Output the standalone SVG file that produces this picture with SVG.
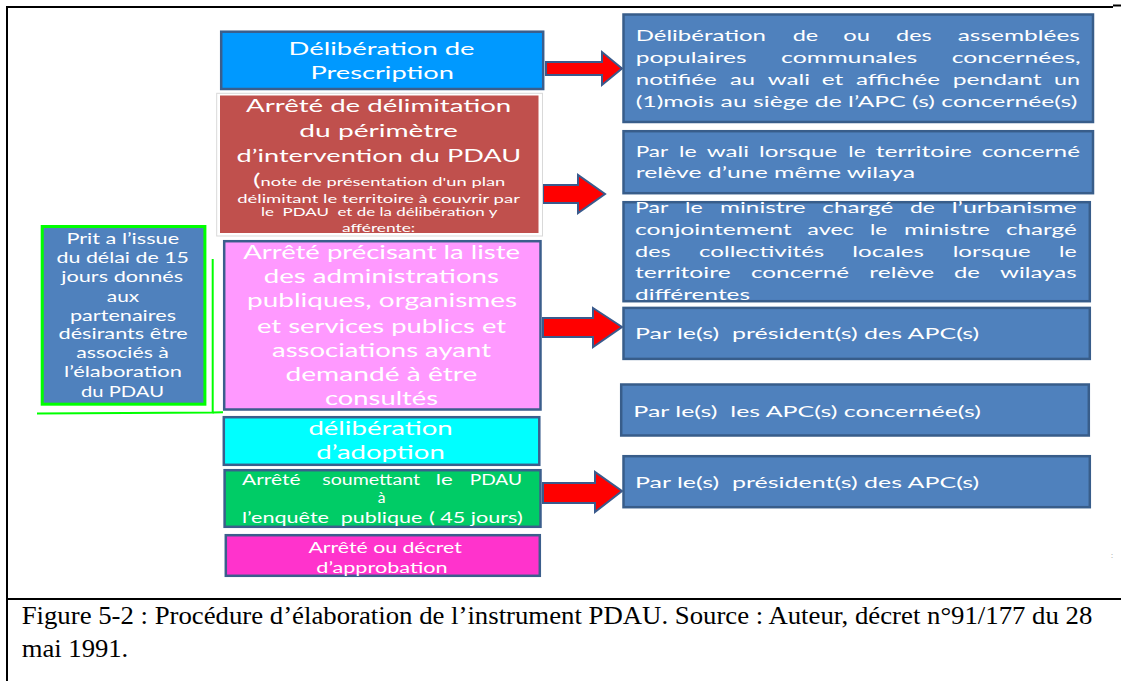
<svg xmlns="http://www.w3.org/2000/svg" width="1121" height="681" viewBox="0 0 1121 681">
<style>
text { font-family: Lato, "Open Sans", "Liberation Sans", sans-serif; fill: #ffffff; }
.t17 { font-size: 17px; }
.t18 { font-size: 18.5px; }
.t16 { font-size: 16px; }
.t15 { font-size: 15.5px; }
.t15b { font-size: 15px; }
.t11 { font-size: 11px; }
.cap { font-family: "Liberation Serif", "Times New Roman", serif; font-size: 25px; fill: #000000; }
.rb { fill: #4f81bd; stroke: #385d8a; stroke-width: 2.5; }
.lb { stroke: #3b5e8c; stroke-width: 2.5; }
.arrow { fill: #ff0000; stroke: #3a5a8c; stroke-width: 2; stroke-linejoin: miter; }
.frame { stroke: #000000; stroke-width: 2; fill: none; }
</style>
<rect x="0" y="0" width="1121" height="681" fill="#ffffff"/>

<g id="frame">
  <line class="frame" x1="6" y1="7" x2="1113" y2="7"/>
  <line class="frame" x1="1113" y1="5.5" x2="1121" y2="5.5"/>
  <line class="frame" x1="7" y1="6" x2="7" y2="681"/>
  <line class="frame" x1="6" y1="599" x2="1121" y2="599" stroke-width="2.5"/>
</g>

<g id="connectors">
  <polygon class="arrow" points="546,62 602,62 602,52 622,68.5 602,85 602,75 546,75"/>
  <polygon class="arrow" points="543,185 578,185 578,175 605,194 578,213 578,203 543,203"/>
  <polygon class="arrow" points="543,318 593,318 593,308 622,327 593,347 593,337 543,337"/>
  <polygon class="arrow" points="543,483 595,483 595,472 622,491 595,512 595,503 543,503"/>
  <polyline points="212.7,259 212.7,412.5 37,413.5" fill="none" stroke="#00ff00" stroke-width="2"/>
  <line x1="212.7" y1="412.5" x2="223" y2="412.3" stroke="#00ff00" stroke-width="2"/>
</g>

<g id="node-prescription">
  <rect class="lb" x="221.2" y="31.7" width="322" height="57.3" fill="#0099ff"/>
  <text class="t17" x="288.6" y="55" textLength="186" lengthAdjust="spacingAndGlyphs">Délibération de</text>
  <text class="t17" x="310.4" y="79" textLength="143.5" lengthAdjust="spacingAndGlyphs">Prescription</text>
</g>

<g id="node-delimitation">
  <rect x="216.7" y="93.3" width="325.8" height="142.7" fill="#ffffff" stroke="#d9d9d9" stroke-width="1"/>
  <rect x="220" y="95.5" width="318.5" height="137.5" fill="#c0504d"/>
  <text class="t17" x="246" y="112" textLength="265.3" lengthAdjust="spacingAndGlyphs">Arrêté de délimitation</text>
  <text class="t17" x="299.3" y="137.3" textLength="158.6" lengthAdjust="spacingAndGlyphs">du périmètre</text>
  <text class="t17" x="236.5" y="161.7" textLength="284.6" lengthAdjust="spacingAndGlyphs">d’intervention du PDAU</text>
  <text class="t11" x="253" y="186" textLength="252.3" lengthAdjust="spacingAndGlyphs"><tspan font-size="17">(</tspan>note de présentation d'un plan</text>
  <text class="t11" x="237.2" y="203.3" textLength="282.7" lengthAdjust="spacingAndGlyphs">délimitant le territoire à couvrir par</text>
  <text class="t11" x="261" y="216" textLength="236.4" lengthAdjust="spacingAndGlyphs" xml:space="preserve">le  PDAU  et de la délibération y</text>
  <text class="t11" x="342" y="231.7" textLength="73.2" lengthAdjust="spacingAndGlyphs">afférente:</text>
</g>

<g id="node-liste">
  <rect class="lb" x="224.2" y="241.2" width="316.3" height="168.3" fill="#ff99ff"/>
  <text class="t18" x="243.2" y="259" textLength="276.8" lengthAdjust="spacingAndGlyphs">Arrêté précisant la liste</text>
  <text class="t18" x="263.7" y="283" textLength="235.3" lengthAdjust="spacingAndGlyphs">des administrations</text>
  <text class="t18" x="247.1" y="307.3" textLength="270" lengthAdjust="spacingAndGlyphs">publiques, organismes</text>
  <text class="t18" x="257" y="333" textLength="249.1" lengthAdjust="spacingAndGlyphs">et services publics et</text>
  <text class="t18" x="272" y="357" textLength="219" lengthAdjust="spacingAndGlyphs">associations ayant</text>
  <text class="t18" x="285.5" y="381" textLength="191.8" lengthAdjust="spacingAndGlyphs">demandé à être</text>
  <text class="t18" x="325" y="405" textLength="113.1" lengthAdjust="spacingAndGlyphs">consultés</text>
</g>

<g id="node-adoption">
  <rect class="lb" x="223.8" y="417.2" width="315.5" height="47.6" fill="#00ffff"/>
  <text class="t18" x="308.4" y="435" textLength="144.3" lengthAdjust="spacingAndGlyphs">délibération</text>
  <text class="t18" x="316.3" y="459" textLength="128.5" lengthAdjust="spacingAndGlyphs">d’adoption</text>
</g>

<g id="node-enquete">
  <rect class="lb" x="224.6" y="470.2" width="315.9" height="56.6" fill="#00cc66"/>
  <text class="t15" x="242" y="485" textLength="58.5" lengthAdjust="spacingAndGlyphs">Arrêté</text>
  <text class="t15" x="322.3" y="485" textLength="97.7" lengthAdjust="spacingAndGlyphs">soumettant</text>
  <text class="t15" x="435.7" y="485" textLength="17" lengthAdjust="spacingAndGlyphs">le</text>
  <text class="t15" x="469.7" y="485" textLength="52.3" lengthAdjust="spacingAndGlyphs">PDAU</text>
  <text class="t15" x="381.6" y="503" text-anchor="middle">à</text>
  <text class="t15" x="242" y="523" textLength="87" lengthAdjust="spacingAndGlyphs">l’enquête</text>
  <text class="t15" x="340.8" y="523" textLength="81.5" lengthAdjust="spacingAndGlyphs">publique</text>
  <text class="t15" x="429" y="523" textLength="93.7" lengthAdjust="spacingAndGlyphs">( 45 jours)</text>
</g>

<g id="node-approbation">
  <rect class="lb" x="225.8" y="535.2" width="314" height="40.6" fill="#ff33cc"/>
  <text class="t15" x="308.4" y="553.3" textLength="153.4" lengthAdjust="spacingAndGlyphs">Arrêté ou décret</text>
  <text class="t15" x="316.3" y="572.7" textLength="131.3" lengthAdjust="spacingAndGlyphs">d’approbation</text>
</g>

<g id="node-delai">
  <rect x="42.2" y="226.5" width="162.7" height="177.7" fill="#4f81bd" stroke="#00ff00" stroke-width="3"/>
  <text class="t15b" x="66.4" y="244" textLength="112.7" lengthAdjust="spacingAndGlyphs">Prit a l’issue</text>
  <text class="t15b" x="56.5" y="263" textLength="132.5" lengthAdjust="spacingAndGlyphs">du délai de 15</text>
  <text class="t15b" x="61.3" y="281.7" textLength="121.8" lengthAdjust="spacingAndGlyphs">jours donnés</text>
  <text class="t15b" x="106.8" y="301.7" textLength="32.4" lengthAdjust="spacingAndGlyphs">aux</text>
  <text class="t15b" x="70" y="320.7" textLength="106" lengthAdjust="spacingAndGlyphs">partenaires</text>
  <text class="t15b" x="58.5" y="339.3" textLength="129.3" lengthAdjust="spacingAndGlyphs">désirants être</text>
  <text class="t15b" x="76.3" y="358.3" textLength="92.5" lengthAdjust="spacingAndGlyphs">associés à</text>
  <text class="t15b" x="64" y="377.3" textLength="117.9" lengthAdjust="spacingAndGlyphs">l’élaboration</text>
  <text class="t15b" x="81" y="396.7" textLength="83" lengthAdjust="spacingAndGlyphs">du PDAU</text>
</g>

<g id="node-assemblees">
  <rect class="rb" x="623.5" y="14.5" width="469.5" height="107.5"/>
  <text class="t16" x="635.7" y="40.7" textLength="130.3" lengthAdjust="spacingAndGlyphs">Délibération</text>
  <text class="t16" x="792.7" y="40.7" textLength="25.6" lengthAdjust="spacingAndGlyphs">de</text>
  <text class="t16" x="843.3" y="40.7" textLength="26.7" lengthAdjust="spacingAndGlyphs">ou</text>
  <text class="t16" x="896" y="40.7" textLength="35.7" lengthAdjust="spacingAndGlyphs">des</text>
  <text class="t16" x="957.7" y="40.7" textLength="122.3" lengthAdjust="spacingAndGlyphs">assemblées</text>
  <text class="t16" x="635.7" y="63.3" textLength="111" lengthAdjust="spacingAndGlyphs">populaires</text>
  <text class="t16" x="781" y="63.3" textLength="136.3" lengthAdjust="spacingAndGlyphs">communales</text>
  <text class="t16" x="951.7" y="63.3" textLength="129" lengthAdjust="spacingAndGlyphs">concernées,</text>
  <text class="t16" x="635.7" y="85" textLength="81" lengthAdjust="spacingAndGlyphs">notifiée</text>
  <text class="t16" x="730" y="85" textLength="25" lengthAdjust="spacingAndGlyphs">au</text>
  <text class="t16" x="767.7" y="85" textLength="42.3" lengthAdjust="spacingAndGlyphs">wali</text>
  <text class="t16" x="821.7" y="85" textLength="21.6" lengthAdjust="spacingAndGlyphs">et</text>
  <text class="t16" x="856" y="85" textLength="84" lengthAdjust="spacingAndGlyphs">affichée</text>
  <text class="t16" x="952.7" y="85" textLength="89" lengthAdjust="spacingAndGlyphs">pendant</text>
  <text class="t16" x="1054" y="85" textLength="26" lengthAdjust="spacingAndGlyphs">un</text>
  <text class="t16" x="635.7" y="106.7" textLength="441.6" lengthAdjust="spacingAndGlyphs">(1)mois au siège de l’APC (s) concernée(s)</text>
</g>

<g id="node-wali">
  <rect class="rb" x="623.5" y="131.2" width="469.5" height="62"/>
  <text class="t16" x="635.7" y="156.7" textLength="32.6" lengthAdjust="spacingAndGlyphs">Par</text>
  <text class="t16" x="679" y="156.7" textLength="17.7" lengthAdjust="spacingAndGlyphs">le</text>
  <text class="t16" x="706.7" y="156.7" textLength="42.3" lengthAdjust="spacingAndGlyphs">wali</text>
  <text class="t16" x="759" y="156.7" textLength="78.3" lengthAdjust="spacingAndGlyphs">lorsque</text>
  <text class="t16" x="848.3" y="156.7" textLength="17.4" lengthAdjust="spacingAndGlyphs">le</text>
  <text class="t16" x="875.7" y="156.7" textLength="96" lengthAdjust="spacingAndGlyphs">territoire</text>
  <text class="t16" x="981.7" y="156.7" textLength="98.3" lengthAdjust="spacingAndGlyphs">concerné</text>
  <text class="t16" x="635.7" y="178.3" textLength="279.3" lengthAdjust="spacingAndGlyphs">relève d’une même wilaya</text>
</g>

<g id="node-ministre">
  <rect class="rb" x="623.5" y="202.2" width="466.3" height="99"/>
  <text class="t16" x="635" y="213.3" textLength="33.3" lengthAdjust="spacingAndGlyphs">Par</text>
  <text class="t16" x="685" y="213.3" textLength="17.7" lengthAdjust="spacingAndGlyphs">le</text>
  <text class="t16" x="720" y="213.3" textLength="85.7" lengthAdjust="spacingAndGlyphs">ministre</text>
  <text class="t16" x="822.3" y="213.3" textLength="71" lengthAdjust="spacingAndGlyphs">chargé</text>
  <text class="t16" x="910" y="213.3" textLength="25" lengthAdjust="spacingAndGlyphs">de</text>
  <text class="t16" x="951.7" y="213.3" textLength="125" lengthAdjust="spacingAndGlyphs">l’urbanisme</text>
  <text class="t16" x="635" y="235" textLength="156.7" lengthAdjust="spacingAndGlyphs">conjointement</text>
  <text class="t16" x="807.3" y="235" textLength="46.7" lengthAdjust="spacingAndGlyphs">avec</text>
  <text class="t16" x="870" y="235" textLength="17.3" lengthAdjust="spacingAndGlyphs">le</text>
  <text class="t16" x="904" y="235" textLength="86" lengthAdjust="spacingAndGlyphs">ministre</text>
  <text class="t16" x="1006" y="235" textLength="70.7" lengthAdjust="spacingAndGlyphs">chargé</text>
  <text class="t16" x="635" y="256.7" textLength="35.7" lengthAdjust="spacingAndGlyphs">des</text>
  <text class="t16" x="699" y="256.7" textLength="125.3" lengthAdjust="spacingAndGlyphs">collectivités</text>
  <text class="t16" x="852.3" y="256.7" textLength="71.7" lengthAdjust="spacingAndGlyphs">locales</text>
  <text class="t16" x="952.7" y="256.7" textLength="78" lengthAdjust="spacingAndGlyphs">lorsque</text>
  <text class="t16" x="1059" y="256.7" textLength="17.7" lengthAdjust="spacingAndGlyphs">le</text>
  <text class="t16" x="635" y="278.3" textLength="95.7" lengthAdjust="spacingAndGlyphs">territoire</text>
  <text class="t16" x="751" y="278.3" textLength="98" lengthAdjust="spacingAndGlyphs">concerné</text>
  <text class="t16" x="869.3" y="278.3" textLength="65" lengthAdjust="spacingAndGlyphs">relève</text>
  <text class="t16" x="954" y="278.3" textLength="26" lengthAdjust="spacingAndGlyphs">de</text>
  <text class="t16" x="1000" y="278.3" textLength="76.7" lengthAdjust="spacingAndGlyphs">wilayas</text>
  <text class="t16" x="635" y="300" textLength="115" lengthAdjust="spacingAndGlyphs">différentes</text>
</g>

<g id="node-presidents-1">
  <rect class="rb" x="623.5" y="307.9" width="466.3" height="51"/>
  <text class="t16" x="635" y="339.3" textLength="344.3" lengthAdjust="spacingAndGlyphs" xml:space="preserve">Par le(s)  président(s) des APC(s)</text>
</g>

<g id="node-apc">
  <rect class="rb" x="621.2" y="384.5" width="467.6" height="51"/>
  <text class="t16" x="633.3" y="416.7" textLength="347.7" lengthAdjust="spacingAndGlyphs" xml:space="preserve">Par le(s)  les APC(s) concernée(s)</text>
</g>

<g id="node-presidents-2">
  <rect class="rb" x="623.5" y="456.2" width="466.3" height="51"/>
  <text class="t16" x="635" y="487.7" textLength="344.3" lengthAdjust="spacingAndGlyphs" xml:space="preserve">Par le(s)  président(s) des APC(s)</text>
</g>

<text x="1111" y="558" style="font-size:8px; fill:#aaaaaa;">:</text>

<g id="caption">
  <text class="cap" x="21.7" y="624" textLength="1070.6" lengthAdjust="spacingAndGlyphs">Figure 5-2 : Procédure d’élaboration de l’instrument PDAU. Source : Auteur, décret n°91/177 du 28</text>
  <text class="cap" x="21.7" y="657" textLength="106.6" lengthAdjust="spacingAndGlyphs">mai 1991.</text>
</g>
</svg>
